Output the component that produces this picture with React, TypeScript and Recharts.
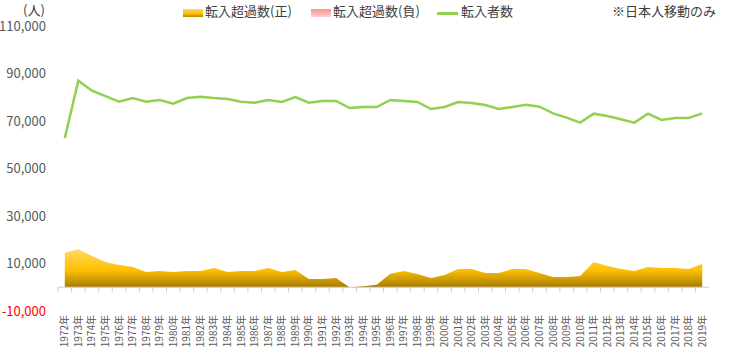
import React from 'react';
import { ComposedChart, Area, Line, XAxis, YAxis, ReferenceLine } from 'recharts';

const years = [
  '1972年', '1973年', '1974年', '1975年', '1976年', '1977年', '1978年', '1979年', '1980年', '1981年',
  '1982年', '1983年', '1984年', '1985年', '1986年', '1987年', '1988年', '1989年', '1990年', '1991年',
  '1992年', '1993年', '1994年', '1995年', '1996年', '1997年', '1998年', '1999年', '2000年', '2001年',
  '2002年', '2003年', '2004年', '2005年', '2006年', '2007年', '2008年', '2009年', '2010年', '2011年',
  '2012年', '2013年', '2014年', '2015年', '2016年', '2017年', '2018年', '2019年',
];

// 転入者数
const inflow = [
  62800, 87000, 82760, 80500, 78140, 79680, 78140, 78840, 77290, 79680,
  80240, 79680, 79260, 78140, 77710, 78840, 78000, 80100, 77700, 78420,
  78420, 75470, 75900, 75900, 78840, 78420, 78000, 75050, 75900, 78000,
  77580, 76730, 75050, 75900, 76870, 76030, 73230, 71400, 69300, 73090,
  72100, 70700, 69300, 73090, 70420, 71260, 71260, 73230,
];

// 転入超過数(正)
const netPositive = [
  14550, 15970, 13160, 10630, 9370, 8530, 6420, 6840, 6420, 6840,
  6840, 8100, 6420, 6840, 6840, 8100, 6420, 7260, 3470, 3470,
  3890, 0, 400, 1080, 5710, 6840, 5580, 3890, 5150, 7680,
  7680, 6000, 6000, 7680, 7680, 6000, 4310, 4310, 4730, 10630,
  8950, 7680, 6840, 8530, 8100, 8100, 7680, 9790,
];

// 転入超過数(負)
const netNegative = [
  0, 0, 0, 0, 0, 0, 0, 0, 0, 0,
  0, 0, 0, 0, 0, 0, 0, 0, 0, 0,
  0, -150, 0, 0, 0, 0, 0, 0, 0, 0,
  0, 0, 0, 0, 0, 0, 0, 0, 0, 0,
  0, 0, 0, 0, 0, 0, 0, 0,
];

const yTicks = [-10000, 10000, 30000, 50000, 70000, 90000, 110000];
const yDomain = [-10000, 110000];

const data = years.map((year, i) => ({
  year,
  inflow: inflow[i],
  pos: netPositive[i],
  neg: netNegative[i],
}));

const W = 730;
const H = 356;
const MARGIN = { top: 26, right: 21, left: 0, bottom: 0 };
const YAXIS_W = 58;
const XAXIS_H = 45;
const plotW = W - YAXIS_W - MARGIN.right - MARGIN.left;
const plotH = H - MARGIN.top - XAXIS_H - MARGIN.bottom;
const step = plotW / years.length;
const half = step / 2;
const zeroOffset = (plotH * (0 - yDomain[0])) / (yDomain[1] - yDomain[0]);

const FONT = '"Noto Sans CJK JP", "Noto Sans", sans-serif';

function XTick(props: any) {
  const { x, y, payload } = props;
  const zeroY = y - zeroOffset;
  return (
    <g>
      <line x1={x - half} x2={x - half} y1={zeroY} y2={zeroY + 5} stroke="#d0d0d0" strokeWidth={1} />
      <text
        transform={`translate(${x + 3.5},${y + 4}) rotate(-90)`}
        textAnchor="end"
        fontSize={10}
        fontFamily={FONT}
        fill="#595959"
      >
        {payload.value}
      </text>
    </g>
  );
}

function YTick(props: any) {
  const { x, y, payload } = props;
  const v = payload.value as number;
  return (
    <text
      x={x}
      y={y}
      dy="0.36em"
      textAnchor="end"
      fontSize={13}
      fontFamily={FONT}
      fill={v < 0 ? '#ff0000' : '#595959'}
    >
      {v.toLocaleString('en-US')}
    </text>
  );
}

const legendText: React.CSSProperties = {
  position: 'absolute',
  top: 2,
  fontSize: 13,
  lineHeight: '17px',
  color: '#404040',
  whiteSpace: 'nowrap',
  fontFamily: FONT,
};

export default function App() {
  return (
    <div style={{ position: 'absolute', left: 0, top: 0, width: W, height: H }}>
      <ComposedChart width={W} height={H} data={data} margin={MARGIN}>
        <defs>
          <linearGradient id="posGrad" x1="0" y1="0" x2="0" y2="1">
            <stop offset="0%" stopColor="#ffd966" />
            <stop offset="55%" stopColor="#ffc000" />
            <stop offset="100%" stopColor="#a67c00" />
          </linearGradient>
          <linearGradient id="negGrad" x1="0" y1="0" x2="0" y2="1">
            <stop offset="0%" stopColor="#ff8080" />
            <stop offset="100%" stopColor="#ffd0d0" />
          </linearGradient>
        </defs>
        <XAxis
          dataKey="year"
          type="category"
          interval={0}
          axisLine={false}
          tickLine={false}
          tickSize={0}
          tickMargin={0}
          height={XAXIS_H}
          padding={{ left: half, right: half }}
          tick={<XTick />}
        />
        <YAxis
          type="number"
          domain={yDomain}
          ticks={yTicks}
          width={YAXIS_W}
          axisLine={false}
          tickLine={false}
          tickSize={0}
          tickMargin={12}
          tick={<YTick />}
        />
        <Area
          type="linear"
          dataKey="pos"
          baseValue={0}
          stroke="none"
          fill="url(#posGrad)"
          fillOpacity={1}
          isAnimationActive={false}
          dot={false}
          activeDot={false}
        />
        <Area
          type="linear"
          dataKey="neg"
          baseValue={0}
          stroke="none"
          fill="url(#negGrad)"
          fillOpacity={1}
          isAnimationActive={false}
          dot={false}
          activeDot={false}
        />
        <ReferenceLine y={0} stroke="#d0d0d0" strokeWidth={1} />
        <Line
          type="linear"
          dataKey="inflow"
          stroke="#92d050"
          strokeWidth={2.5}
          dot={false}
          activeDot={false}
          isAnimationActive={false}
        />
      </ComposedChart>
      <div style={{ ...legendText, left: 23, top: 2, lineHeight: '15px' }}>(人)</div>
      <div
        style={{
          position: 'absolute',
          left: 183,
          top: 9,
          width: 20,
          height: 8,
          background: 'linear-gradient(to bottom, #ffd966, #ffc000 55%, #b58500)',
        }}
      />
      <div style={{ ...legendText, left: 205 }}>転入超過数(正)</div>
      <div
        style={{
          position: 'absolute',
          left: 311,
          top: 9,
          width: 20,
          height: 8,
          background: 'linear-gradient(to bottom, #ff8f8f, #ffd0d0)',
        }}
      />
      <div style={{ ...legendText, left: 333 }}>転入超過数(負)</div>
      <div
        style={{
          position: 'absolute',
          left: 437,
          top: 12,
          width: 21,
          height: 2.5,
          background: '#92d050',
        }}
      />
      <div style={{ ...legendText, left: 461 }}>転入者数</div>
      <div style={{ ...legendText, left: 612 }}>※日本人移動のみ</div>
    </div>
  );
}
